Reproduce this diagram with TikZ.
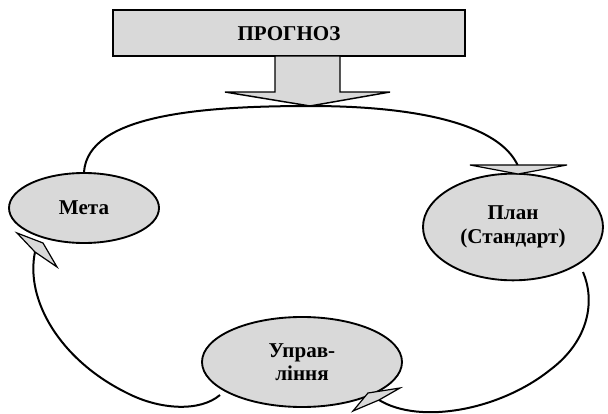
\documentclass[tikz,border=0pt]{standalone}
\usepackage{fontspec}
\setmainfont{Liberation Serif}
\usetikzlibrary{shapes.geometric}
\definecolor{boxgray}{RGB}{217,217,217}

\tikzset{
  oval/.style={ellipse, draw, line width=1.4pt, fill=boxgray, inner sep=0pt,
    align=center, font=\fontsize{15.8}{17.5}\selectfont\bfseries},
  loopline/.style={line width=1.5pt},
  headfill/.style={draw, line width=0.9pt, fill=boxgray, line join=miter}
}

\begin{document}
\begin{tikzpicture}[x=0.75pt,y=-0.75pt]
\useasboundingbox (0,0) rectangle (608,414);

% prognoz box and big arrow
\draw[line width=1.4pt, fill=boxgray] (113,10) rectangle (465,56);
\node[font=\fontsize{15.8}{17.5}\selectfont\bfseries] (prognoz) at (289,34) {ПРОГНОЗ};
\draw[line width=1.1pt, fill=boxgray] (275,56) -- (340,56) -- (340,92) -- (390,92)
  -- (310,106) -- (225,92) -- (275,92) -- cycle;

% ovals
\node[oval, minimum width=112.5pt, minimum height=52.5pt] (meta) at (84,208) {Мета};
\node[oval, minimum width=135pt, minimum height=80pt] (plan) at (513,227) {План\\(Стандарт)};
\node[oval, minimum width=150pt, minimum height=67.5pt] (upr) at (302,362) {Управ-\\ління};

% ends of the loop
\coordinate (a) at (518,166);
\coordinate (b) at (583,272);
\coordinate (c) at (379,400);
\coordinate (d) at (220,395);
\coordinate (e) at (35,252);

% meta -> plan
\draw[loopline] (meta.north) .. controls (88,115) and (200,106) .. (310,106)
  .. controls (420,106) and (500,125) .. (a);
\draw[headfill] (470,165) -- (567,165) -- (518,174) -- cycle;

% plan -> upr
\draw[loopline] (b) .. controls (595,300) and (590,340) .. (550,370)
  .. controls (500,410) and (420,425) .. (c);
\draw[headfill] (400,388) -- (368,393) -- (353,411) -- (379,400) -- cycle;

% upr -> meta
\draw[loopline] (d) .. controls (200,412) and (160,410) .. (127,393)
  .. controls (60,360) and (25,300) .. (e);
\draw[headfill] (17,233) -- (43,243) -- (57,267) -- (35,252) -- cycle;

\end{tikzpicture}
\end{document}
